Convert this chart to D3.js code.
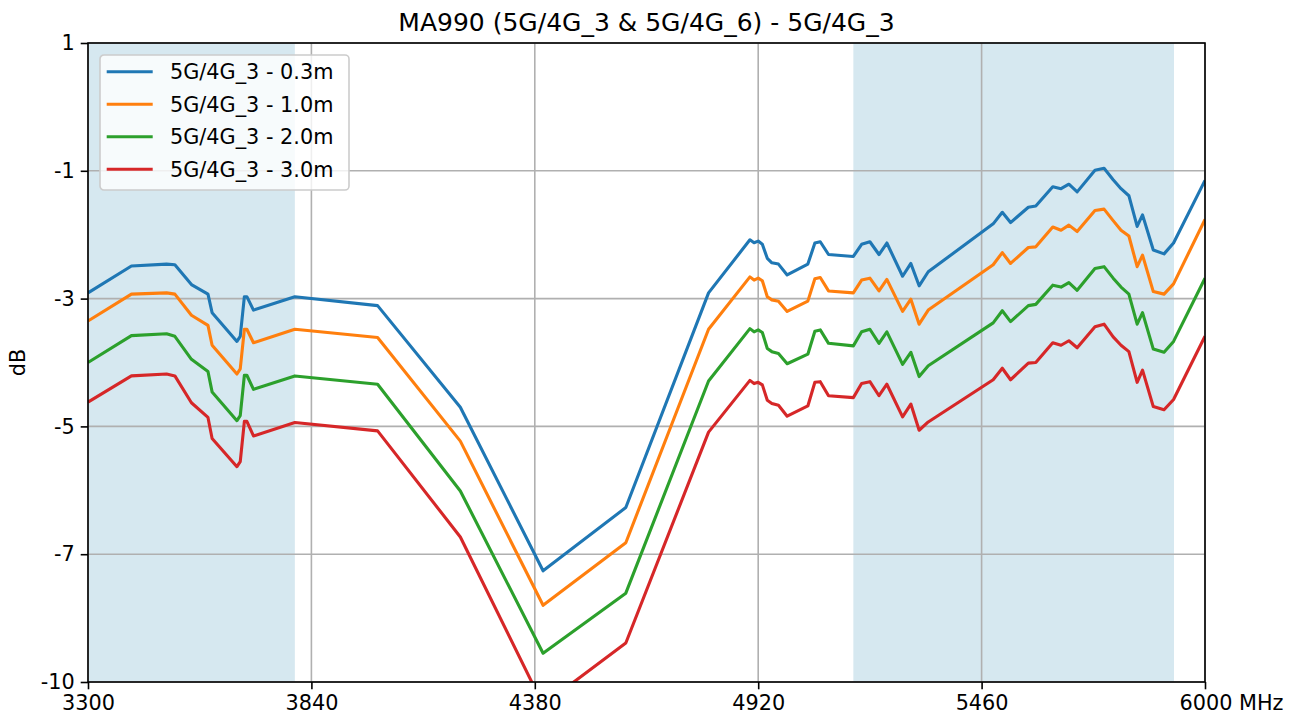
<!DOCTYPE html>
<html>
<head>
<meta charset="utf-8">
<script src="https://cdn.jsdelivr.net/npm/d3@7"></script>
<style>
  html, body { margin: 0; padding: 0; background: #fff; }
  svg { display: block; font-family: "DejaVu Sans", sans-serif; }
</style>
</head>
<body>
<svg id="chart" width="1303" height="722"></svg>
<script>
const chartTitle = "MA990 (5G/4G_3 & 5G/4G_6) - 5G/4G_3";
const yLabel = "dB";
const freqs = [3300, 3405, 3490, 3510, 3550, 3590, 3600, 3660, 3668, 3678, 3684, 3700, 3800, 4000, 4200, 4400, 4600, 4800, 4900, 4910, 4920, 4930, 4942, 4953, 4969, 4990, 5040, 5057, 5070, 5090, 5150, 5170, 5190, 5212, 5231, 5269, 5289, 5309, 5331, 5488, 5510, 5530, 5573, 5591, 5632, 5652, 5671, 5691, 5734, 5756, 5778, 5797, 5816, 5836, 5849, 5875, 5901, 5924, 6000];
const seriesNames = ["5G/4G_3 - 0.3m", "5G/4G_3 - 1.0m", "5G/4G_3 - 2.0m", "5G/4G_3 - 3.0m"];
const s03 = [-2.91, -2.49, -2.46, -2.47, -2.78, -2.93, -3.22, -3.67, -3.59, -2.97, -2.97, -3.18, -2.97, -3.11, -4.70, -7.26, -6.27, -2.91, -2.08, -2.125, -2.10, -2.15, -2.37, -2.44, -2.46, -2.63, -2.46, -2.13, -2.11, -2.31, -2.34, -2.15, -2.11, -2.31, -2.13, -2.65, -2.45, -2.80, -2.58, -1.83, -1.65, -1.81, -1.57, -1.55, -1.25, -1.28, -1.21, -1.33, -0.99, -0.96, -1.14, -1.28, -1.39, -1.87, -1.69, -2.24, -2.30, -2.13, -1.15];
const s10 = [-3.35, -2.93, -2.91, -2.93, -3.26, -3.42, -3.73, -4.18, -4.10, -3.48, -3.48, -3.69, -3.48, -3.61, -5.23, -7.80, -6.82, -3.48, -2.66, -2.71, -2.68, -2.72, -2.97, -3.02, -3.04, -3.20, -3.04, -2.69, -2.67, -2.88, -2.91, -2.71, -2.68, -2.88, -2.70, -3.20, -3.01, -3.40, -3.18, -2.47, -2.28, -2.45, -2.20, -2.19, -1.88, -1.93, -1.85, -1.95, -1.62, -1.60, -1.78, -1.93, -2.02, -2.50, -2.32, -2.89, -2.93, -2.77, -1.76];
const s20 = [-4.00, -3.58, -3.55, -3.59, -3.95, -4.14, -4.46, -4.91, -4.83, -4.20, -4.20, -4.42, -4.21, -4.34, -6.01, -8.55, -7.61, -4.29, -3.47, -3.52, -3.49, -3.53, -3.78, -3.83, -3.86, -4.02, -3.87, -3.51, -3.49, -3.70, -3.74, -3.52, -3.48, -3.70, -3.52, -4.03, -3.84, -4.22, -4.05, -3.38, -3.19, -3.36, -3.11, -3.09, -2.79, -2.82, -2.75, -2.87, -2.53, -2.50, -2.68, -2.82, -2.93, -3.40, -3.22, -3.79, -3.84, -3.67, -2.68];
const s30 = [-4.62, -4.21, -4.18, -4.21, -4.63, -4.86, -5.19, -5.63, -5.55, -4.92, -4.92, -5.15, -4.94, -5.07, -6.73, -9.36, -8.39, -5.09, -4.28, -4.33, -4.31, -4.35, -4.59, -4.64, -4.67, -4.84, -4.68, -4.31, -4.30, -4.52, -4.55, -4.33, -4.30, -4.52, -4.34, -4.85, -4.65, -5.06, -4.93, -4.27, -4.09, -4.27, -4.01, -4.00, -3.69, -3.73, -3.66, -3.77, -3.44, -3.40, -3.60, -3.73, -3.83, -4.31, -4.12, -4.69, -4.74, -4.58, -3.59];
const seriesColors = ["#1f77b4", "#ff7f0e", "#2ca02c", "#d62728"];
const bandStarts = [3300, 5150];
const bandEnds = [3800, 5925];
const xTickValues = [3300, 3840, 4380, 4920, 5460, 6000];
const xTickLabels = ["3300", "3840", "4380", "4920", "5460", "6000 MHz"];
const yTickValues = [1, -1, -3, -5, -7, -9];
const yTickLabels = ["1", "-1", "-3", "-5", "-7", "-10"];
const xDomain = [3300, 6000];
const yDomain = [-9, 1];

const seriesValues = [s03, s10, s20, s30];

const svg = d3.select("#chart");
const W = 1303, H = 722;
const m = { left: 88, top: 43, right: 98, bottom: 40 };
const pw = W - m.left - m.right, ph = H - m.top - m.bottom;
const FS = 20.8;

const x = d3.scaleLinear().domain(xDomain).range([0, pw]);
const y = d3.scaleLinear().domain(yDomain).range([ph, 0]);

const g = svg.append("g").attr("transform", `translate(${m.left},${m.top})`);

svg.append("defs").append("clipPath").attr("id", "clip")
  .append("rect").attr("x", 0).attr("y", 0).attr("width", pw).attr("height", ph);

// shaded bands
g.append("g").selectAll("rect").data(bandStarts.map((s, i) => [s, bandEnds[i]])).join("rect")
  .attr("x", d => x(d[0])).attr("width", d => x(d[1]) - x(d[0]))
  .attr("y", 0).attr("height", ph)
  .attr("fill", "#d6e8f0");

// grid
const grid = g.append("g").attr("stroke", "#b0b0b0").attr("stroke-width", 1.6);
grid.selectAll(".gx").data(xTickValues).join("line")
  .attr("x1", d => x(d)).attr("x2", d => x(d)).attr("y1", 0).attr("y2", ph);
grid.selectAll(".gy").data(yTickValues).join("line")
  .attr("y1", d => y(d)).attr("y2", d => y(d)).attr("x1", 0).attr("x2", pw);

// lines
const line = d3.line().x((d, i) => x(freqs[i])).y(d => y(d));
g.append("g").attr("clip-path", "url(#clip)")
  .selectAll("path").data(seriesValues).join("path")
  .attr("d", d => line(d))
  .attr("fill", "none")
  .attr("stroke", (d, i) => seriesColors[i])
  .attr("stroke-width", 3.1)
  .attr("stroke-linejoin", "round")
  .attr("stroke-linecap", "butt");

// axes
const xAxis = d3.axisBottom(x).tickValues(xTickValues)
  .tickFormat((d, i) => xTickLabels[i]).tickSize(7.3).tickPadding(6);
const yAxis = d3.axisLeft(y).tickValues(yTickValues)
  .tickFormat((d, i) => yTickLabels[i]).tickSize(7.3).tickPadding(6);

const gx = g.append("g").attr("transform", `translate(0,${ph})`).call(xAxis);
const gy = g.append("g").call(yAxis);
[gx, gy].forEach(a => {
  a.select(".domain").remove();
  a.selectAll(".tick line").attr("stroke", "#000").attr("stroke-width", 1.6);
  a.selectAll(".tick text").attr("fill", "#000").style("font-size", FS + "px")
    .style("font-family", "DejaVu Sans");
});
// last x label "6000 MHz": keep number centered on tick
gx.selectAll(".tick text").filter((d, i) => i === xTickLabels.length - 1)
  .attr("text-anchor", "start").attr("dx", -26);

// spines
g.append("rect").attr("x", 0).attr("y", 0).attr("width", pw).attr("height", ph)
  .attr("fill", "none").attr("stroke", "#000").attr("stroke-width", 1.6);

// title
svg.append("text").attr("x", m.left + pw / 2).attr("y", 30.5)
  .attr("text-anchor", "middle").style("font-size", "25px").attr("fill", "#000")
  .text(chartTitle);

// y label
svg.append("text").attr("transform", `translate(${25},${m.top + ph / 2}) rotate(-90)`)
  .attr("text-anchor", "middle").style("font-size", FS + "px").attr("fill", "#000")
  .text(yLabel);

// legend
const lg = g.append("g").attr("transform", "translate(12,12)");
lg.append("rect").attr("x", 0).attr("y", 0).attr("width", 249).attr("height", 135)
  .attr("rx", 4).attr("fill", "#fff").attr("fill-opacity", 0.8)
  .attr("stroke", "#cccccc").attr("stroke-width", 1.6);
const items = lg.selectAll(".it").data(seriesNames).join("g")
  .attr("transform", (d, i) => `translate(0,${16.7 + i * 32.5})`);
items.append("line").attr("x1", 6.7).attr("x2", 52.7).attr("y1", 0).attr("y2", 0)
  .attr("stroke", (d, i) => seriesColors[i]).attr("stroke-width", 3.1);
items.append("text").attr("x", 70).attr("y", 0).attr("dy", "0.36em")
  .style("font-size", FS + "px").attr("fill", "#000").text(d => d);
</script>
</body>
</html>
